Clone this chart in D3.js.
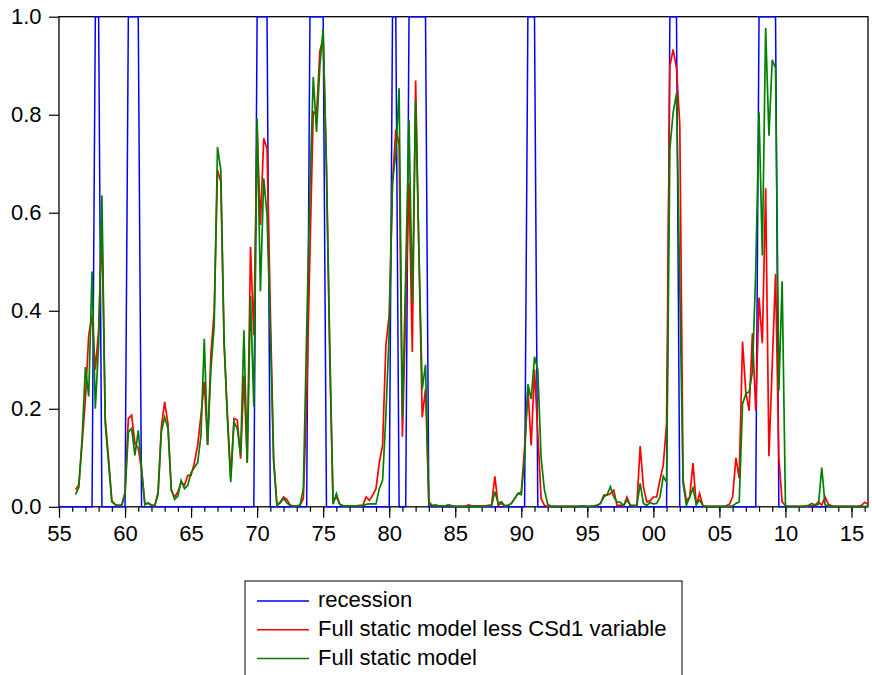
<!DOCTYPE html>
<html>
<head>
<meta charset="utf-8">
<script src="https://cdn.jsdelivr.net/npm/d3@7"></script>
<style>
  body { margin: 0; background: white; }
  text { font-family: Arial, "Liberation Sans", sans-serif; }
</style>
</head>
<body>
<div id="container"></div>
<script>
// Quarterly recession indicator vs. two probit model probabilities, 1955Q1 - 2016Q2

const width = 872;
const height = 675;

const firstYear = 1955;  // series start at 1955Q1, one value per quarter

// NBER-style 0/1 recession dummy, one row per year
const recession = [
    0, 0, 0, 0,   0, 0, 0, 0,   0, 0, 0, 1,   1, 0, 0, 0,   0, 0, 0, 0,   // 55-59
    0, 1, 1, 1,   1, 0, 0, 0,   0, 0, 0, 0,   0, 0, 0, 0,   0, 0, 0, 0,   // 60-64
    0, 0, 0, 0,   0, 0, 0, 0,   0, 0, 0, 0,   0, 0, 0, 0,   0, 0, 0, 0,   // 65-69
    1, 1, 1, 1,   0, 0, 0, 0,   0, 0, 0, 0,   0, 0, 0, 0,   1, 1, 1, 1,   // 70-74
    1, 0, 0, 0,   0, 0, 0, 0,   0, 0, 0, 0,   0, 0, 0, 0,   0, 0, 0, 0,   // 75-79
    0, 1, 1, 0,   0, 0, 1, 1,   1, 1, 1, 1,   0, 0, 0, 0,   0, 0, 0, 0,   // 80-84
    0, 0, 0, 0,   0, 0, 0, 0,   0, 0, 0, 0,   0, 0, 0, 0,   0, 0, 0, 0,   // 85-89
    0, 0, 1, 1,   1, 0, 0, 0,   0, 0, 0, 0,   0, 0, 0, 0,   0, 0, 0, 0,   // 90-94
    0, 0, 0, 0,   0, 0, 0, 0,   0, 0, 0, 0,   0, 0, 0, 0,   0, 0, 0, 0,   // 95-99
    0, 0, 0, 0,   0, 1, 1, 1,   0, 0, 0, 0,   0, 0, 0, 0,   0, 0, 0, 0,   // 00-04
    0, 0, 0, 0,   0, 0, 0, 0,   0, 0, 0, 0,   1, 1, 1, 1,   1, 1, 0, 0,   // 05-09
    0, 0, 0, 0,   0, 0, 0, 0,   0, 0, 0, 0,   0, 0, 0, 0,   0, 0, 0, 0,   // 10-14
    0, 0, 0, 0,   0, 0                                                   // 15-16
];

// Full static model less CSd1 variable
const lessCSd1 = [
    null, null, null, null,        null, 0.035, 0.045, 0.13,     // 55-56
    0.22, 0.35, 0.39, 0.28,        0.36, 0.57, 0.18, 0.10,       // 57-58
    0.012, 0.005, 0.003, 0.004,    0.03, 0.18, 0.187, 0.129,     // 59-60
    0.12, 0.075, 0.006, 0.007,     0.004, 0.002, 0.03, 0.163,    // 61-62
    0.214, 0.17, 0.033, 0.02,      0.03, 0.05, 0.044, 0.064,     // 63-64
    0.064, 0.09, 0.126, 0.187,     0.255, 0.126, 0.31, 0.40,     // 65-66
    0.687, 0.663, 0.33, 0.19,      0.06, 0.18, 0.177, 0.098,     // 67-68
    0.268, 0.09, 0.53, 0.35,       0.772, 0.575, 0.752, 0.73,    // 69-70
    0.40, 0.10, 0.003, 0.01,       0.02, 0.015, 0.003, 0.002,    // 71-72
    0.002, 0.003, 0.017, 0.22,     0.52, 0.806, 0.80, 0.93,      // 73-74
    0.956, 0.70, 0.30, 0.01,       0.02, 0.006, 0.002, 0.002,    // 75-76
    0.002, 0.002, 0.002, 0.003,    0.003, 0.02, 0.013, 0.024,    // 77-78
    0.037, 0.09, 0.126, 0.33,      0.39, 0.66, 0.77, 0.74,       // 79-80
    0.143, 0.40, 0.66, 0.316,      0.87, 0.52, 0.183, 0.24,      // 81-82
    0.01, 0.003, 0.002, 0.002,     0.002, 0.002, 0.003, 0.002,   // 83-84
    0.001, 0.001, 0.001, 0.001,    0.004, 0.002, 0.002, 0.002,   // 85-86
    0.002, 0.002, 0.003, 0.004,    0.062, 0.003, 0.007, 0.002,   // 87-88
    0.003, 0.007, 0.017, 0.027,    0.03, 0.12, 0.24, 0.125,      // 89-90
    0.28, 0.15, 0.017, 0.003,      0.001, 0.001, 0.001, 0.001,   // 91-92
    0.001, 0.001, 0.001, 0.001,    0.001, 0.001, 0.001, 0.002,   // 93-94
    0.001, 0.001, 0.002, 0.003,    0.007, 0.024, 0.024, 0.027,   // 95-96
    0.034, 0.003, 0.003, 0.002,    0.02, 0.003, 0.003, 0.003,    // 97-98
    0.124, 0.04, 0.01, 0.012,      0.02, 0.02, 0.055, 0.085,     // 99-00
    0.17, 0.90, 0.933, 0.895,      0.78, 0.055, 0.012, 0.02,     // 01-02
    0.089, 0.003, 0.027, 0.002,    0.001, 0.001, 0.001, 0.001,   // 03-04
    0.001, 0.001, 0.002, 0.005,    0.02, 0.10, 0.058, 0.337,     // 05-06
    0.234, 0.196, 0.354, 0.196,    0.427, 0.334, 0.65, 0.103,    // 07-08
    0.29, 0.475, 0.10, 0.01,       0.002, 0.001, 0.001, 0.001,   // 09-10
    0.001, 0.001, 0.001, 0.002,    0.002, 0.004, 0.01, 0.003,    // 11-12
    0.02, 0.005, 0.002, 0.001,     0.001, 0.001, 0.001, 0.001,   // 13-14
    0.001, 0.001, 0.001, 0.003,    0.009, 0.005                  // 15-16
];

// Full static model
const fullStatic = [
    null, null, null, null,        null, 0.025, 0.04, 0.14,      // 55-56
    0.285, 0.225, 0.48, 0.20,      0.33, 0.635, 0.17, 0.09,      // 57-58
    0.01, 0.004, 0.002, 0.003,     0.025, 0.152, 0.16, 0.105,    // 59-60
    0.156, 0.08, 0.004, 0.008,     0.003, 0.002, 0.025, 0.153,   // 61-62
    0.183, 0.16, 0.037, 0.015,     0.022, 0.054, 0.037, 0.044,   // 63-64
    0.07, 0.08, 0.09, 0.146,       0.343, 0.126, 0.28, 0.37,     // 65-66
    0.734, 0.687, 0.34, 0.18,      0.05, 0.173, 0.16, 0.105,     // 67-68
    0.36, 0.09, 0.43, 0.204,       0.792, 0.44, 0.67, 0.595,     // 69-70
    0.36, 0.09, 0.003, 0.008,      0.017, 0.008, 0.003, 0.002,   // 71-72
    0.002, 0.003, 0.037, 0.357,    0.65, 0.877, 0.765, 0.90,     // 73-74
    0.976, 0.68, 0.33, 0.005,      0.027, 0.005, 0.002, 0.002,   // 75-76
    0.002, 0.002, 0.002, 0.002,    0.002, 0.005, 0.006, 0.006,   // 77-78
    0.006, 0.037, 0.054, 0.187,    0.357, 0.663, 0.72, 0.854,    // 79-80
    0.18, 0.48, 0.789, 0.418,      0.83, 0.52, 0.24, 0.29,       // 81-82
    0.005, 0.002, 0.004, 0.002,    0.002, 0.002, 0.004, 0.002,   // 83-84
    0.001, 0.001, 0.001, 0.001,    0.001, 0.001, 0.001, 0.001,   // 85-86
    0.001, 0.001, 0.002, 0.002,    0.031, 0.007, 0.01, 0.002,    // 87-88
    0.003, 0.007, 0.017, 0.027,    0.025, 0.10, 0.25, 0.22,      // 89-90
    0.306, 0.28, 0.10, 0.035,      0.005, 0.001, 0.001, 0.001,   // 91-92
    0.001, 0.001, 0.001, 0.001,    0.001, 0.001, 0.002, 0.001,   // 93-94
    0.001, 0.001, 0.002, 0.003,    0.007, 0.02, 0.025, 0.041,    // 95-96
    0.02, 0.01, 0.009, 0.002,      0.014, 0.003, 0.002, 0.002,   // 97-98
    0.048, 0.007, 0.003, 0.009,    0.006, 0.007, 0.02, 0.062,    // 99-00
    0.05, 0.73, 0.805, 0.843,      0.45, 0.048, 0.003, 0.02,     // 01-02
    0.038, 0.005, 0.014, 0.002,    0.001, 0.001, 0.001, 0.001,   // 03-04
    0.001, 0.001, 0.001, 0.001,    0.002, 0.007, 0.01, 0.21,     // 05-06
    0.23, 0.235, 0.275, 0.48,      0.805, 0.513, 0.977, 0.757,   // 07-08
    0.912, 0.895, 0.237, 0.46,     0.002, 0.001, 0.001, 0.001,   // 09-10
    0.001, 0.001, 0.002, 0.003,    0.007, 0.003, 0.005, 0.08,    // 11-12
    0.004, 0.002, 0.001, 0.001,    0.001, 0.001, 0.001, 0.001,   // 13-14
    0.001, 0.001, 0.001, 0.001,    0.001, 0.001                  // 15-16
];

const majorYears = [1955, 1960, 1965, 1970, 1975, 1980, 1985, 1990, 1995, 2000, 2005, 2010, 2015];
const minorYears = d3.range(1955, 2017);
const yTicks = [0, 0.2, 0.4, 0.6, 0.8, 1.0];

const seriesNames = ["recession", "Full static model less CSd1 variable", "Full static model"];
const seriesColors = ["#0000ff", "#ff0000", "#008000"];
const seriesWidths = [1.5, 1.7, 1.7];

const plot = { left: 59, right: 868, top: 16.7, bottom: 506.8 };

const svg = d3.select("#container")
    .append("svg")
    .attr("width", width)
    .attr("height", height)
    .style("background-color", "white");

const x = d3.scaleLinear()
    .domain([firstYear, firstYear + (recession.length - 1) / 4])
    .range([plot.left, plot.right]);

const y = d3.scaleLinear()
    .domain([0, 1])
    .range([plot.bottom, plot.top]);

// axes: minor yearly ticks, then labelled 5-year ticks
svg.append("g")
    .attr("transform", `translate(0,${plot.bottom})`)
    .call(d3.axisBottom(x).tickValues(minorYears).tickSize(5).tickFormat(""))
    .call(g => g.select(".domain").remove());

svg.append("g")
    .attr("transform", `translate(0,${plot.bottom})`)
    .call(d3.axisBottom(x).tickValues(majorYears).tickSize(11).tickPadding(8)
        .tickFormat(d => String(d).slice(2)))
    .call(g => g.select(".domain").remove())
    .call(g => g.selectAll("text").style("font-size", "22px").attr("fill", "#000"));

svg.append("g")
    .attr("transform", `translate(${plot.left},0)`)
    .call(d3.axisLeft(y).tickValues(yTicks).tickSize(10).tickPadding(7.5)
        .tickFormat(d3.format(".1f")))
    .call(g => g.select(".domain").remove())
    .call(g => g.selectAll("text").style("font-size", "22px").attr("fill", "#000"));

svg.selectAll(".tick line").attr("stroke", "#000").attr("stroke-width", 1.2);

svg.append("rect")
    .attr("x", plot.left)
    .attr("y", plot.top)
    .attr("width", plot.right - plot.left)
    .attr("height", plot.bottom - plot.top)
    .attr("fill", "none")
    .attr("stroke", "#000")
    .attr("stroke-width", 1.3);

const line = d3.line()
    .defined(d => d != null)
    .x((d, i) => x(firstYear + i / 4))
    .y(d => y(d));

[recession, lessCSd1, fullStatic].forEach((values, i) => {
    svg.append("path")
        .datum(values)
        .attr("fill", "none")
        .attr("stroke", seriesColors[i])
        .attr("stroke-width", seriesWidths[i])
        .attr("stroke-linejoin", "miter")
        .attr("d", line);
});

// legend box, cut off by the bottom of the picture like the original
const legend = svg.append("g");

legend.append("rect")
    .attr("x", 245)
    .attr("y", 581)
    .attr("width", 437)
    .attr("height", 110)
    .attr("fill", "white")
    .attr("stroke", "#000")
    .attr("stroke-width", 1);

seriesNames.forEach((name, i) => {
    const ly = 601 + i * 28.7;
    legend.append("line")
        .attr("x1", 257)
        .attr("x2", 309)
        .attr("y1", ly)
        .attr("y2", ly)
        .attr("stroke", seriesColors[i])
        .attr("stroke-width", 1.5);
    legend.append("text")
        .attr("x", 318)
        .attr("y", ly)
        .attr("dy", "0.28em")
        .style("font-size", "22px")
        .text(name);
});
</script>
</body>
</html>
